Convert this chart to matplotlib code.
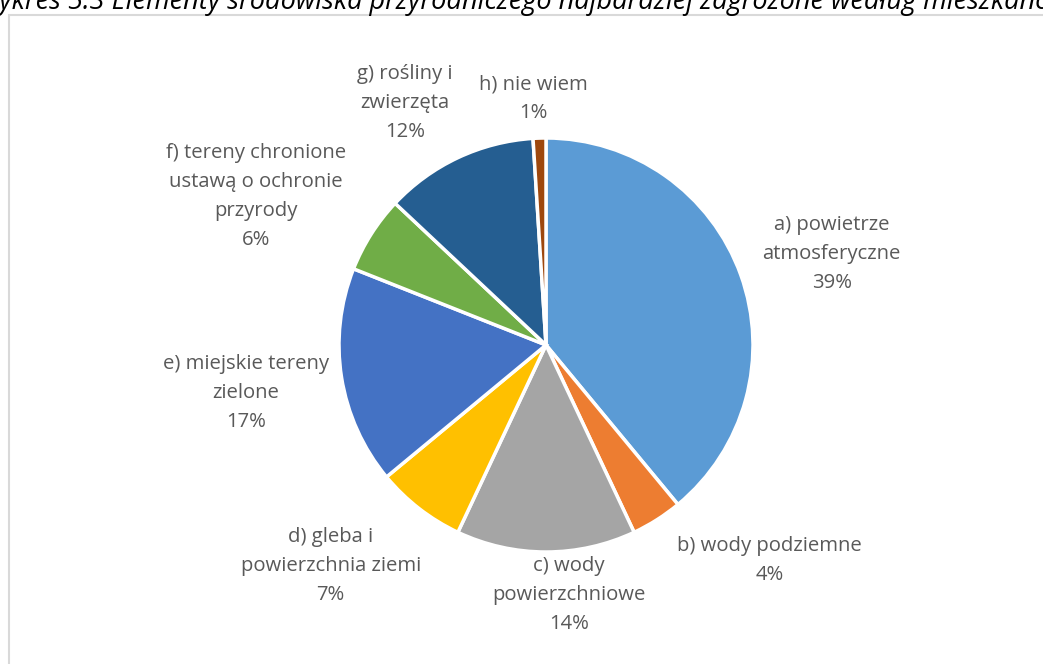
import matplotlib.pyplot as plt
from matplotlib.patches import Rectangle
import numpy as np

title = "Wykres 5.3 Elementy środowiska przyrodniczego najbardziej zagrożone według mieszkańców"
labels = ["a) powietrze\natmosferyczne", "b) wody podziemne", "c) wody\npowierzchniowe",
          "d) gleba i\npowierzchnia ziemi", "e) miejskie tereny\nzielone",
          "f) tereny chronione\nustawą o ochronie\nprzyrody", "g) rośliny i\nzwierzęta", "h) nie wiem"]
shares = [39, 4, 14, 7, 17, 6, 12, 1]
colors = ["#5B9BD5", "#ED7D31", "#A5A5A5", "#FFC000", "#4472C4", "#70AD47", "#255E91", "#9E480E"]

# label offsets in pie radii (x, y from centre)
label_pos = [(1.38, 0.44), (1.08, -1.04), (0.11, -1.21), (-1.04, -1.07),
             (-1.45, -0.23), (-1.40, 0.715), (-0.68, 1.17), (-0.06, 1.19)]

W, H = 1043, 664
fig = plt.figure(figsize=(W / 100, H / 100), dpi=100)
plt.rcParams['font.family'] = ['Open Sans', 'DejaVu Sans']

# chart frame
fig.patches.append(Rectangle((9 / W, -0.1), 1.2, 1 - 15 / H + 0.1, transform=fig.transFigure,
                             fill=False, edgecolor="#D9D9D9", linewidth=1.5))

# heading runs past the figure edges
fig.text(-24 / W, 1 - 9 / H, title, fontsize=19.5, style="italic", color="#000000",
         va="baseline", ha="left")

cx, cy, r = 546, 345, 207
ax = fig.add_axes([(cx - r) / W, (H - cy - r) / H, 2 * r / W, 2 * r / H])
ax.pie(shares, colors=colors, startangle=90, counterclock=False, radius=1,
       wedgeprops=dict(edgecolor="white", linewidth=2.5))
ax.set_xlim(-1, 1)
ax.set_ylim(-1, 1)
ax.set_aspect("auto")

for lab, val, (lx, ly) in zip(labels, shares, label_pos):
    ax.text(lx, ly, f"{lab}\n{val}%", ha="center", va="center", fontsize=14.6,
            color="#595959", linespacing=1.6, clip_on=False)

fig.savefig("out.png", dpi=100)
